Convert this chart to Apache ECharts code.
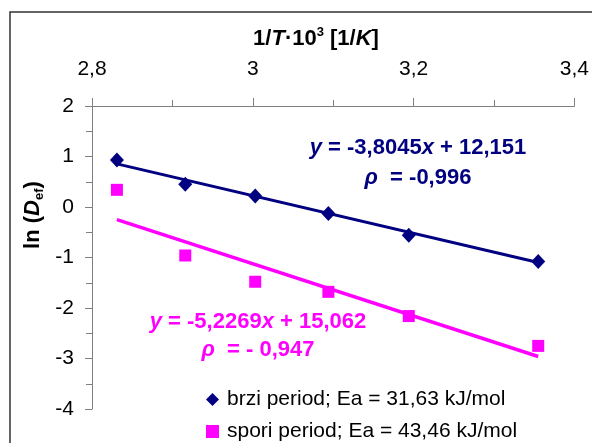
<!DOCTYPE html>
<html>
<head>
<meta charset="utf-8">
<script src="https://cdn.jsdelivr.net/npm/echarts@6/dist/echarts.min.js"></script>
<style>html,body{margin:0;padding:0;background:#fff}#c{width:592px;height:443px}</style>
</head>
<body>
<div id="c"></div>
<script>
// ---- data ----
const invT = [2.831, 2.916, 3.003, 3.094, 3.194, 3.355];
const brzi = [0.93, 0.45, 0.22, -0.13, -0.56, -1.08];
const spori = [0.34, -0.96, -1.48, -1.68, -2.16, -2.75];
const trendX = [2.831, 3.355];
const brziTrend = [0.854, -1.098];
const sporiTrend = [-0.25, -2.96];
const xTicks = [2.8, 3.0, 3.2, 3.4];
const yTicks = [-4, -3, -2, -1, 0, 1, 2];
const nameBrzi = 'brzi period; Ea = 31,63 kJ/mol';
const nameSpori = 'spori period; Ea = 43,46 kJ/mol';

const FONT = 'Liberation Sans, Arial, sans-serif';
const NAVY = '#000080', MAG = '#FF00FF';
const pairs = (xs, ys) => xs.map((x, i) => [x, ys[i]]);
const comma = v => String(Math.round(v * 10) / 10).replace('.', ',');

const chart = echarts.init(document.getElementById('c'), null, {renderer: 'canvas'});

function rich(col, size) {
  return {
    n: {fontFamily: FONT, fontWeight: 'bold', fontSize: size, fill: col, color: col, lineHeight: 26},
    i: {fontFamily: FONT, fontWeight: 'bold', fontStyle: 'italic', fontSize: size, fill: col, color: col, lineHeight: 26},
    sup: {fontFamily: FONT, fontWeight: 'bold', fontSize: 13, fill: col, color: col, lineHeight: 14, verticalAlign: 'top'},
    sub: {fontFamily: FONT, fontWeight: 'bold', fontSize: 13, fill: col, color: col, lineHeight: 12, verticalAlign: 'bottom'}
  };
}
function txt(x, y, text, col, size, rot) {
  return {
    type: 'text', x: x, y: y, rotation: rot || 0, z: 100,
    style: {text: text, rich: rich(col, size), fill: col, fontFamily: FONT, fontWeight: 'bold', fontSize: size,
            align: 'center', verticalAlign: 'middle'}
  };
}

chart.setOption({
  animation: false,
  backgroundColor: '#fff',
  grid: {left: 92, top: 106, right: 16, bottom: 34, containLabel: false},
  xAxis: {
    type: 'value', position: 'top', min: xTicks[0], max: xTicks[xTicks.length - 1], interval: 0.2,
    axisLine: {show: true, onZero: false, lineStyle: {color: '#808080', width: 1}},
    axisTick: {show: true, inside: false, length: 8, lineStyle: {color: '#808080'}},
    minorTick: {show: true, splitNumber: 2, length: 6, lineStyle: {color: '#808080'}},
    splitLine: {show: false},
    axisLabel: {margin: 26, fontFamily: FONT, fontSize: 21, color: '#000', formatter: comma}
  },
  yAxis: {
    type: 'value', min: yTicks[0], max: yTicks[yTicks.length - 1], interval: 1,
    axisLine: {show: true, onZero: false, lineStyle: {color: '#808080', width: 1}},
    axisTick: {show: true, inside: false, length: 7, lineStyle: {color: '#808080'}},
    minorTick: {show: true, splitNumber: 2, length: 6, lineStyle: {color: '#808080'}},
    splitLine: {show: false},
    axisLabel: {margin: 18, fontFamily: FONT, fontSize: 21, color: '#000', formatter: v => String(v)}
  },
  legend: {
    orient: 'vertical', left: 206, top: 389, padding: 0, itemGap: 11, itemWidth: 13, itemHeight: 13,
    height: 60, width: 380,
    textStyle: {fontFamily: FONT, fontSize: 21, color: '#000', padding: [0, 0, 0, 3]},
    data: [{name: nameBrzi, icon: 'diamond'}, {name: nameSpori, icon: 'rect'}]
  },
  series: [
    {type: 'line', data: pairs(trendX, brziTrend), symbol: 'none', lineStyle: {color: NAVY, width: 3}, silent: true, z: 2},
    {type: 'line', data: pairs(trendX, sporiTrend), symbol: 'none', lineStyle: {color: MAG, width: 3.5}, silent: true, z: 2},
    {name: nameBrzi, type: 'scatter', data: pairs(invT, brzi), symbol: 'diamond', symbolSize: [14, 15],
     itemStyle: {color: NAVY, opacity: 1}, z: 3},
    {name: nameSpori, type: 'scatter', data: pairs(invT, spori), symbol: 'rect', symbolSize: 12,
     itemStyle: {color: MAG, opacity: 1}, z: 3}
  ],
  graphic: [
    {type: 'rect', shape: {x: 10, y: 12, width: 640, height: 500}, style: {fill: 'none', stroke: '#333', lineWidth: 1.5}, z: 0, silent: true},
    txt(316, 39, '{n|1/}{i|T}{n|·10}{sup|3}{n| [1/}{i|K}{n|]}', '#000', 22),
    txt(33, 215, '{n|ln (}{i|D}{sub|ef}{n|)}', '#000', 22, Math.PI / 2),
    txt(418, 148, '{i|y}{n| = -3,8045}{i|x}{n| + 12,151}', NAVY, 22),
    txt(418, 178, '{i|ρ}{n|  = -0,996}', NAVY, 22),
    txt(258, 322, '{i|y}{n| = -5,2269}{i|x}{n| + 15,062}', MAG, 22),
    txt(258, 350, '{i|ρ}{n|  = - 0,947}', MAG, 22)
  ]
});
</script>
</body>
</html>
